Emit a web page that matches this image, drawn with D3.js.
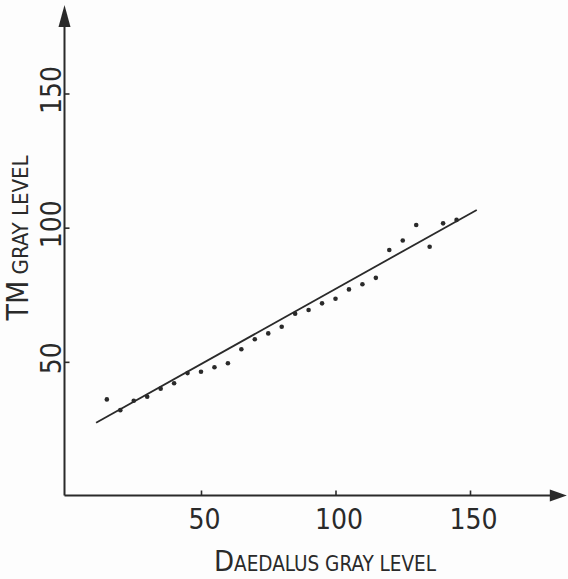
<!DOCTYPE html>
<html>
<head>
<meta charset="utf-8">
<script src="https://cdn.jsdelivr.net/npm/d3@7/dist/d3.min.js"></script>
<style>
  html, body { margin: 0; padding: 0; background: #fdfdfd; }
  svg { display: block; }
  text { font-family: "Liberation Sans Narrow", "DejaVu Sans Condensed", "Liberation Sans", sans-serif; fill: #2a2a2a; }
</style>
</head>
<body>
<svg id="chart" width="568" height="579"></svg>
<script>
// ---- data ----
const daedalus = [15, 20, 25, 30, 35, 40, 45, 50, 55, 60, 65, 70, 75, 80, 85, 90, 95, 100, 105, 110, 115, 120, 125, 130, 135, 140, 145];
const tm       = [36, 32, 35.5, 37, 40, 42, 45.8, 46.3, 48, 49.5, 54.7, 58.4, 60.6, 63.1, 67.9, 69.3, 71.8, 73.5, 77, 78.9, 81.3, 91.7, 95.2, 101, 92.9, 101.6, 102.9];
const fitX = [11, 152.5];
const fitY = [27.3, 106.6];
const xTicks = [50, 100, 150];
const yTicks = [50, 100, 150];
const xAxisEnd = 186;
const yAxisEnd = 183;

const svg = d3.select("#chart");
const ink = "#2a2a2a";
const fontFam = '"Liberation Sans Narrow", "DejaVu Sans Condensed", sans-serif';

const x = d3.scaleLinear().domain([0, 150]).range([66.5, 470]);
const y = d3.scaleLinear().domain([0, 150]).range([496, 93.5]);
const axX = 64.5, axY = 495.5;

// axis lines
svg.append("line").attr("x1", axX).attr("y1", axY).attr("x2", x(xAxisEnd) - 14).attr("y2", axY)
  .attr("stroke", ink).attr("stroke-width", 2);
svg.append("line").attr("x1", axX).attr("y1", axY).attr("x2", axX).attr("y2", y(yAxisEnd) + 20)
  .attr("stroke", ink).attr("stroke-width", 2);
// arrowheads
const xt = x(xAxisEnd);
svg.append("path").attr("d", `M${xt},${axY} L${xt - 17},${axY - 6} L${xt - 17},${axY + 6} Z`).attr("fill", ink);
const yt = y(yAxisEnd);
svg.append("path").attr("d", `M${axX},${yt} L${axX - 6},${yt + 22} L${axX + 6},${yt + 22} Z`).attr("fill", ink);

// x axis ticks & labels
const gx = svg.append("g").attr("transform", `translate(0,${axY})`)
  .call(d3.axisBottom(x).tickValues(xTicks).tickSize(-5).tickPadding(0));
gx.select(".domain").remove();
gx.selectAll(".tick line").attr("stroke", ink).attr("stroke-width", 1.6);
gx.selectAll(".tick text").attr("dy", null).attr("y", 33.5).attr("x", 3)
  .attr("font-size", 28).attr("fill", "#333").style("font-family", fontFam);

// y axis ticks & labels
const gy = svg.append("g").attr("transform", `translate(${axX},0)`)
  .call(d3.axisLeft(y).tickValues(yTicks).tickSize(-5).tickPadding(0));
gy.select(".domain").remove();
gy.selectAll(".tick line").attr("stroke", ink).attr("stroke-width", 1.6);
gy.selectAll(".tick text").attr("x", null).attr("dy", null)
  .attr("transform", "translate(-3.5,-4) rotate(-90)")
  .attr("text-anchor", "middle")
  .attr("font-size", 28).attr("fill", "#333").style("font-family", fontFam);

// regression line
svg.append("line")
  .attr("x1", x(fitX[0])).attr("y1", y(fitY[0]))
  .attr("x2", x(fitX[1])).attr("y2", y(fitY[1]))
  .attr("stroke", ink).attr("stroke-width", 1.8);

// points
svg.append("g").selectAll("circle")
  .data(daedalus.map((d, i) => [d, tm[i]]))
  .join("circle")
  .attr("cx", d => x(d[0])).attr("cy", d => y(d[1]))
  .attr("r", 2.3).attr("fill", ink);

// axis titles (small caps)
const xt1 = svg.append("text").attr("x", 325).attr("y", 571).attr("text-anchor", "middle").attr("fill", "#333");
xt1.append("tspan").attr("font-size", 29).text("D");
xt1.append("tspan").attr("font-size", 20.5).text("AEDALUS GRAY LEVEL");

const yt1 = svg.append("text").attr("transform", "translate(28,238) rotate(-90)").attr("text-anchor", "middle").attr("fill", "#333");
yt1.append("tspan").attr("font-size", 30).text("TM");
yt1.append("tspan").attr("font-size", 22).text(" GRAY LEVEL");
</script>
</body>
</html>
